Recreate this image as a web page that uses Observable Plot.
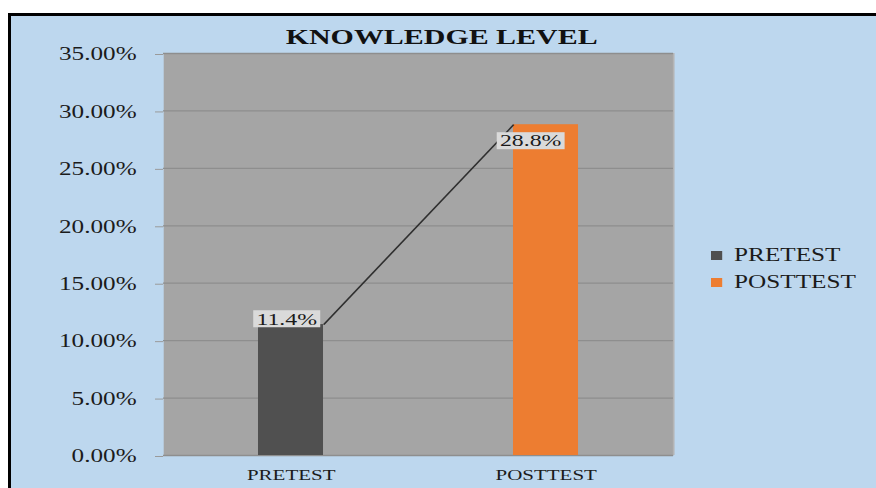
<!DOCTYPE html>
<html>
<head>
<meta charset="utf-8">
<script src="https://cdn.jsdelivr.net/npm/d3@7"></script>
<script src="https://cdn.jsdelivr.net/npm/@observablehq/plot@0.6"></script>
<style>
  html, body { margin: 0; padding: 0; background: #ffffff; }
  #page { position: relative; width: 876px; height: 488px; overflow: hidden; background: #ffffff; }
  #chartArea { position: absolute; left: 8px; top: 13px; width: 900px; height: 500px;
               border: 3px solid #000; background: #bdd7ee; box-sizing: border-box; }
  #plotHolder { position: absolute; left: 11px; top: 16px; }
  #legend { position: absolute; left: 711px; top: 242px; transform: scaleX(1.4); transform-origin: 0 0;
            font-family: "Liberation Serif", "Times New Roman", serif; font-size: 18px; color: #1b1b1b; }
  .row { display: flex; align-items: center; height: 27px; }
  .sw { width: 7.9px; height: 9px; margin-right: 8.6px; }
</style>
</head>
<body>
<div id="page">
  <div id="chartArea"></div>
  <div id="plotHolder"></div>
  <div id="legend"></div>
</div>
<script>
// ---- data ----
const title = "KNOWLEDGE LEVEL";
const categories = ["PRETEST", "POSTTEST"];
const values = [0.114, 0.288];
const valueLabels = ["11.4%", "28.8%"];
const yTicks = [0, 0.05, 0.10, 0.15, 0.20, 0.25, 0.30, 0.35];

// ---- style / layout ----
const colors = ["#505050", "#ed7d31"];
const S = 1.4;                 // horizontal stretch of the reference
const screenW = 865, H = 472;
const W = screenW / S;
const barFrac = 0.255;         // bar width as fraction of the band
const hw = barFrac / 2;
const serif = '"Liberation Serif", "Times New Roman", serif';

const data = categories.map((c, i) => ({category: c, pos: i + 0.5, value: values[i], label: valueLabels[i]}));
const links = data.slice(0, -1).map((d, i) => ({
  x1: d.pos + hw, y1: d.value, x2: data[i + 1].pos - hw, y2: data[i + 1].value
}));

const chart = Plot.plot({
  width: W,
  height: H,
  marginLeft: 152 / S,
  marginRight: 203 / S,
  marginTop: 37,
  marginBottom: 33,
  style: {background: "transparent", fontFamily: serif, fontSize: "18px", color: "#1b1b1b"},
  x: {type: "linear", domain: [0, categories.length]},
  y: {domain: [0, 0.35]},
  color: {domain: categories, range: colors},
  marks: [
    Plot.frame({fill: "#a5a5a5", stroke: null}),
    Plot.ruleX([categories.length], {stroke: "#b4b4b4", strokeWidth: 1.2}),
    Plot.gridY({ticks: yTicks, stroke: "#8e8e8e", strokeOpacity: 1, strokeWidth: 1.3}),
    Plot.axisY({ticks: yTicks, tickFormat: d3.format(".2%"), tickSize: 8 / S, tickPadding: 13.6,
                stroke: "#9a9a9a", fill: "#1b1b1b", fontSize: 18, dy: 1}),
    Plot.axisX({ticks: data.map(d => d.pos), tickFormat: v => categories[Math.floor(v)],
                tickSize: 0, tickPadding: 14, fill: "#1b1b1b", fontSize: 15}),
    Plot.rectY(data, {x1: d => d.pos - hw, x2: d => d.pos + hw, y1: 0, y2: "value", fill: "category"}),
    Plot.link(links, {x1: "x1", y1: "y1", x2: "x2", y2: "y2", stroke: "#2f2f2f", strokeWidth: 1.3}),
    Plot.text([data[0]], {x: "pos", y: "value", text: "label", fontSize: 17, fill: "#1a1a1a",
                          lineAnchor: "middle", dx: -3.2, dy: -5.5}),
    Plot.text([data[1]], {x: "pos", y: "value", text: "label", fontSize: 17, fill: "#1a1a1a",
                          lineAnchor: "middle", dx: -11.1, dy: 16.3}),
    Plot.text([title], {frameAnchor: "top", dy: -16, dx: 16.4, fontWeight: "bold", fontSize: 21.4,
                        fill: "#111", lineAnchor: "middle"})
  ]
});

chart.setAttribute("viewBox", `0 0 ${W} ${H}`);
chart.setAttribute("preserveAspectRatio", "none");
chart.setAttribute("width", screenW);
chart.setAttribute("height", H);
chart.style.width = screenW + "px";
chart.style.height = H + "px";
chart.style.maxWidth = "none";
document.getElementById("plotHolder").appendChild(chart);

// light boxes behind the value labels
d3.select(chart).selectAll("text").each(function() {
  if (!valueLabels.includes(this.textContent)) return;
  const b = this.getBBox();
  const cy = b.y + b.height / 2;
  const r = d3.select(this.parentNode).insert("rect", () => this)
    .attr("x", b.x - 2.3).attr("width", b.width + 4.6)
    .attr("y", cy - 8.5).attr("height", 17)
    .attr("fill", "#dadada");
  const t = this.getAttribute("transform");
  if (t) r.attr("transform", t);
});

// legend
const legend = d3.select("#legend");
categories.forEach((c, i) => {
  const row = legend.append("div").attr("class", "row");
  row.append("div").attr("class", "sw").style("background", colors[i]);
  row.append("span").text(c);
});
</script>
</body>
</html>
